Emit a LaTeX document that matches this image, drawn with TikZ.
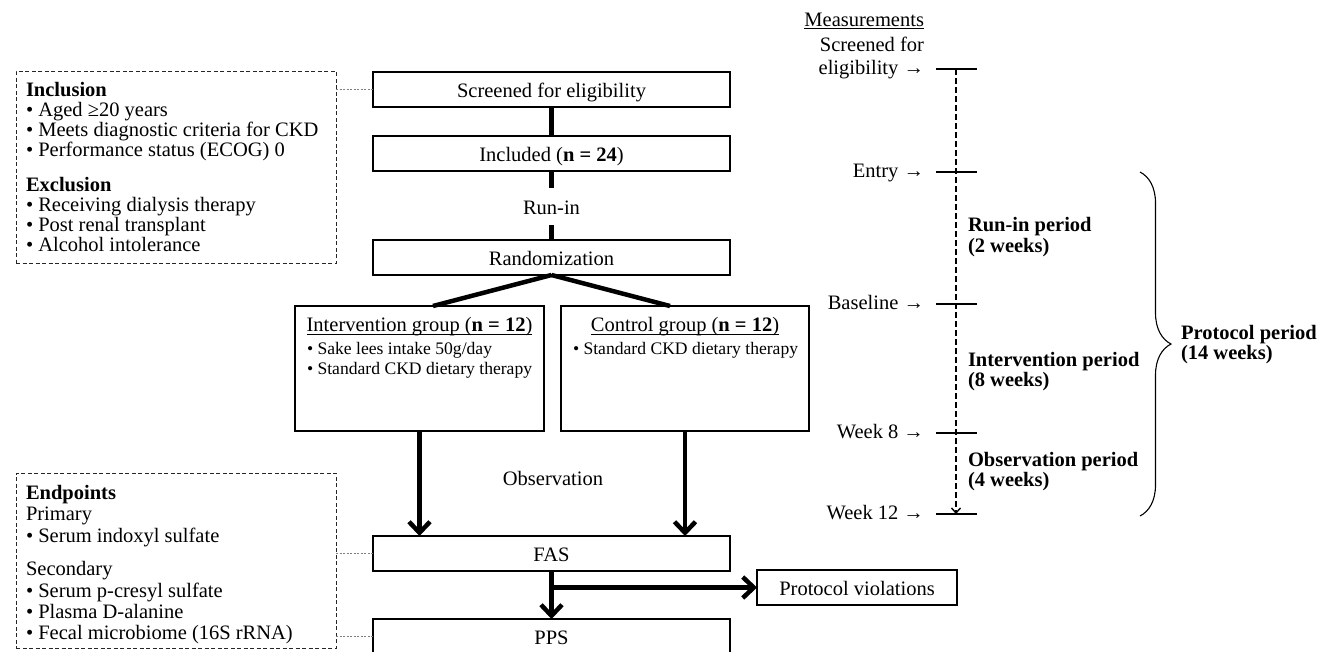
\documentclass[tikz,border=0pt]{standalone}
\usepackage{fontspec}
\setmainfont{Liberation Serif}
\usetikzlibrary{arrows.meta,decorations.pathreplacing,calc}
\newcommand\myul[1]{\setbox0\hbox{#1}\leavevmode\rlap{\rule[-3.1pt]{\wd0}{0.9pt}}\box0}
\newcommand\stack[2]{\vtop{\baselineskip=#1\lineskiplimit=-100pt\lineskip=0pt #2}}
\begin{document}
\begin{tikzpicture}[x=1pt,y=-1pt,
  every node/.style={inner sep=0pt, outer sep=0pt},
  fs/.style={font=\fontsize{20.5}{20}\selectfont},
  fsb/.style={font=\fontsize{20.5}{20}\selectfont\bfseries},
  fsm/.style={font=\fontsize{17.6}{20}\selectfont},
  flowbox/.style={draw, line width=1.2pt, fs, minimum height=35pt, text height=16pt, text depth=0pt},
  groupbox/.style={draw, line width=1.2pt, minimum height=125pt},
  dashbox/.style={draw=black!85, line width=1pt, dash pattern=on 4pt off 2.5pt},
  dotlink/.style={draw=black!50, line width=1pt, dash pattern=on 2pt off 1.5pt},
  thickline/.style={line width=4.5pt},
  bigarrow/.style={line width=4.5pt, -{Straight Barb[length=11pt,width=21pt]}},
  tickmark/.style={line width=1.8pt},
  timeline/.style={line width=1.4pt, dash pattern=on 6pt off 3pt, -{Straight Barb[length=5pt,width=9pt]}},
  bracestyle/.style={line width=1.1pt, decorate, decoration={brace, amplitude=31pt}}
]
\useasboundingbox (0,0) rectangle (1328,651);
\clip (0,0) rectangle (1328,651);

% ---------- left dashed boxes ----------
\node[dashbox, minimum width=320pt, minimum height=192pt] (incl) at (176,167) {};
\node[fs, anchor=base west] (incltext) at (26,96) {\stack{20.2pt}{%
  \hbox{\textbf{Inclusion}}%
  \hbox{• Aged ≥20 years}%
  \hbox{• Meets diagnostic criteria for CKD}%
  \hbox{• Performance status (ECOG) 0}%
  \vskip14.5pt
  \hbox{\textbf{Exclusion}}%
  \hbox{• Receiving dialysis therapy}%
  \hbox{• Post renal transplant}%
  \hbox{• Alcohol intolerance}}};

\node[dashbox, minimum width=320pt, minimum height=175pt] (endp) at (176,560.5) {};
\node[fs, anchor=base west] (endptext) at (26,499.5) {\stack{21.3pt}{%
  \hbox{\textbf{Endpoints}}%
  \hbox{Primary}%
  \hbox{• Serum indoxyl sulfate}%
  \vskip12.5pt
  \hbox{Secondary}%
  \hbox{• Serum p-cresyl sulfate}%
  \hbox{• Plasma D-alanine}%
  \hbox{• Fecal microbiome (16S rRNA)}}};

% ---------- flow ----------
\node[flowbox, minimum width=357pt] (scr) at (551.5,89.5) {Screened for eligibility};
\node[flowbox, minimum width=357pt] (inc) at (551.5,153.5) {Included (\textbf{n = 24})};
\node[fs, text height=16pt, text depth=0pt, minimum height=37pt] (runin) at (551.5,206.3) {Run-in};
\node[flowbox, minimum width=357pt] (rand) at (551.5,257.5) {Randomization};

\node[groupbox, minimum width=249pt] (intv) at (419.5,368.5) {};
\node[groupbox, minimum width=248pt] (ctrl) at (685,368.5) {};
\node[fs, anchor=base] (intvt) at (419.5,331.5) {\myul{Intervention group (\textbf{n = 12})}};
\node[fsm, anchor=base west] (intvb) at (307,354) {\stack{20.5pt}{%
  \hbox{• Sake lees intake 50g/day}%
  \hbox{• Standard CKD dietary therapy}}};
\node[fs, anchor=base] (ctrlt) at (685,331.5) {\myul{Control group (\textbf{n = 12})}};
\node[fsm, anchor=base west] (ctrlb) at (573,354) {• Standard CKD dietary therapy};

\node[fs, anchor=base] (obs) at (553,485.5) {Observation};

\node[flowbox, minimum width=357pt] (fas) at (551.5,553.5) {FAS};
\node[flowbox, minimum width=357pt] (pps) at (551.5,636.5) {PPS};
\node[flowbox, minimum width=200pt] (pv) at (857,587.5) {Protocol violations};

\draw[thickline] (scr) -- (inc);
\draw[thickline] (inc) -- (runin);
\draw[thickline] (runin) -- (rand);
\draw[thickline] (rand.south) -- ([xshift=13.5pt]intv.north);
\draw[thickline] (rand.south) -- ([xshift=-15pt]ctrl.north);
\draw[bigarrow] (intv.south) -- (intv.south |- fas.north);
\draw[bigarrow] (ctrl.south) -- (ctrl.south |- fas.north);
\draw[bigarrow] (fas) -- (pps);
\draw[bigarrow] (fas.south |- pv.west) -- (pv.west);

\draw[dotlink] (scr.west -| incl.east) -- (scr.west);
\draw[dotlink] (fas.west -| endp.east) -- (fas.west);
\draw[dotlink] (pps.west -| endp.east) -- (pps.west);

% ---------- timeline ----------
\node[fs, anchor=base east] (meas) at (924,26) {\myul{Measurements}};
\node[fs, anchor=base east] (lscr) at (924,51) {Screened for};
\node[fs, anchor=base east] (lelig) at (924,74.5) {eligibility →};
\node[fs, anchor=base east] (lentry) at (924,177.5) {Entry →};
\node[fs, anchor=base east] (lbase) at (924,309.5) {Baseline →};
\node[fs, anchor=base east] (lw8) at (924,438.5) {Week 8 →};
\node[fs, anchor=base east] (lw12) at (924,519.5) {Week 12 →};

\coordinate (t0) at (956,69);
\coordinate (t1) at (956,172);
\coordinate (t2) at (956,304);
\coordinate (t3) at (956,433);
\coordinate (t4) at (956,514);
\foreach \t in {t0,t1,t2,t3,t4}
  \draw[tickmark] ([xshift=-20pt]\t) -- ([xshift=21pt]\t);
\draw[timeline] (t0) -- (t4);

\node[fsb, anchor=base west] (prun) at (968,231.5) {\stack{20.5pt}{\hbox{Run-in period}\hbox{(2 weeks)}}};
\node[fsb, anchor=base west] (pint) at (968,366) {\stack{20.5pt}{\hbox{Intervention period}\hbox{(8 weeks)}}};
\node[fsb, anchor=base west] (pobs) at (968,466) {\stack{20.5pt}{\hbox{Observation period}\hbox{(4 weeks)}}};

\coordinate (b1) at (1140,172);
\coordinate (b2) at (1140,516);
\draw[bracestyle] (b1) -- (b2);
\node[fsb, anchor=base west] (pprot) at (1181,339) {\stack{20.5pt}{\hbox{Protocol period}\hbox{(14 weeks)}}};
\end{tikzpicture}
\end{document}
